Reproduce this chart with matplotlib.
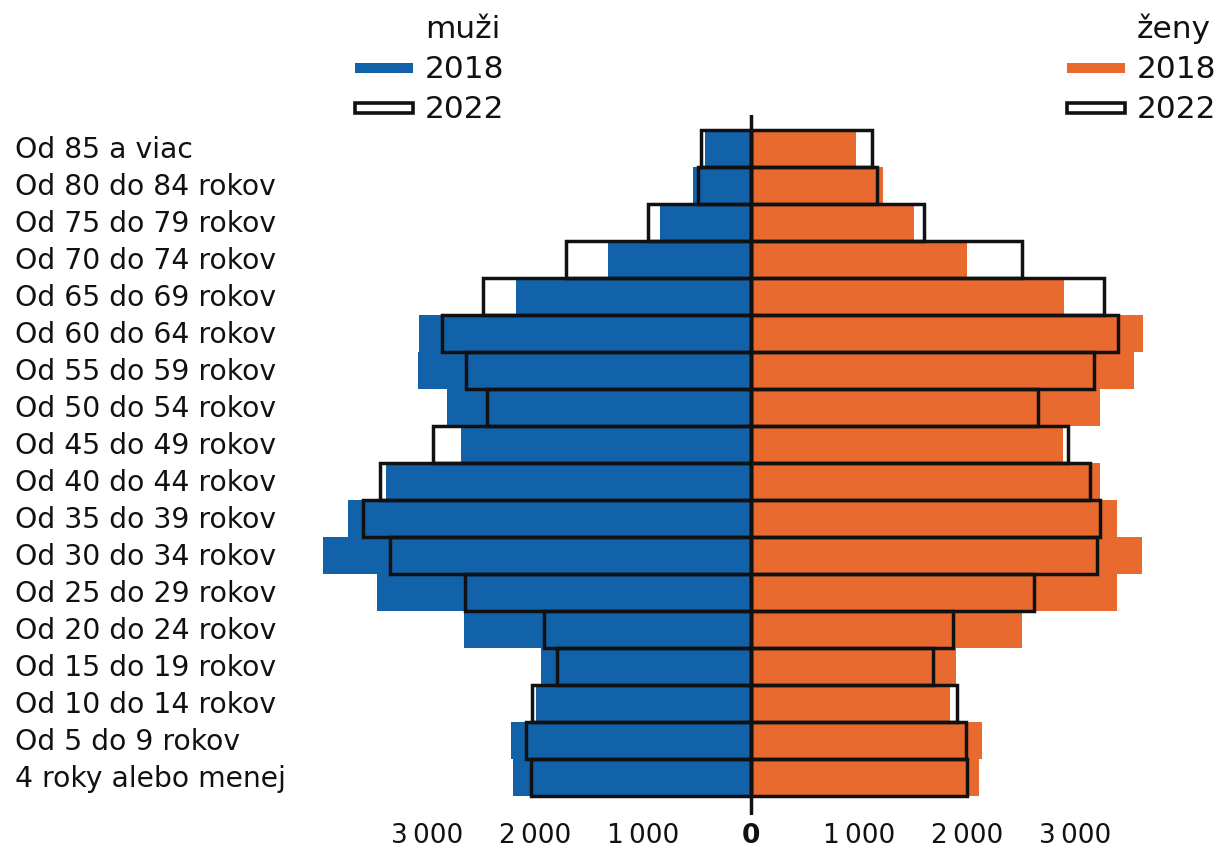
import numpy as np
import matplotlib.pyplot as plt
from matplotlib.patches import Rectangle
from matplotlib.transforms import blended_transform_factory

# ------------------------------------------------------------
# data (top row first)
# ------------------------------------------------------------
age_groups = [
    "Od 85 a viac", "Od 80 do 84 rokov", "Od 75 do 79 rokov",
    "Od 70 do 74 rokov", "Od 65 do 69 rokov", "Od 60 do 64 rokov",
    "Od 55 do 59 rokov", "Od 50 do 54 rokov", "Od 45 do 49 rokov",
    "Od 40 do 44 rokov", "Od 35 do 39 rokov", "Od 30 do 34 rokov",
    "Od 25 do 29 rokov", "Od 20 do 24 rokov", "Od 15 do 19 rokov",
    "Od 10 do 14 rokov", "Od 5 do 9 rokov", "4 roky alebo menej",
]

men_2018 = [425, 535, 845, 1325, 2175, 3075, 3085, 2815, 2685,
            3380, 3730, 3965, 3465, 2655, 1945, 1990, 2220, 2205]
men_2022 = [465, 490, 955, 1715, 2480, 2860, 2640, 2445, 2945,
            3435, 3595, 3345, 2650, 1915, 1795, 2030, 2085, 2035]
women_2018 = [970, 1220, 1510, 2000, 2900, 3630, 3545, 3230, 2890,
              3230, 3390, 3620, 3390, 2510, 1900, 1845, 2140, 2110]
women_2022 = [1120, 1165, 1600, 2510, 3270, 3400, 3175, 2655, 2935,
              3140, 3230, 3205, 2620, 1870, 1685, 1905, 1990, 2000]

tick_values = [-3000, -2000, -1000, 0, 1000, 2000, 3000]
tick_labels = ["3\u2009000", "2\u2009000", "1\u2009000", "0",
               "1\u2009000", "2\u2009000", "3\u2009000"]

BLUE = "#1262aa"
ORANGE = "#e86a2f"
INK = "#111111"

plt.rcParams["font.family"] = ["DejaVu Sans"]

W, H = 1221, 849
fig = plt.figure(figsize=(W / 100, H / 100), dpi=100)


def fx(px):
    return px / W


def fy(py):
    return 1 - py / H


# axes placed so that 0 sits at x=751 px, 1000 people ~ 108 px
ax = fig.add_axes([fx(300), fy(815), fx(900), (815 - 115) / H])
ax.set_xlim(-(751 - 300) / 0.108, (1200 - 751) / 0.108)
ax.set_ylim(-0.5 - 19 / 37, 17.5 + 15.5 / 37)

y = np.arange(len(age_groups))[::-1]

ax.barh(y, -np.array(men_2018), height=1.0, color=BLUE, lw=0)
ax.barh(y, women_2018, height=1.0, color=ORANGE, lw=0)
ax.barh(y, -np.array(men_2022), height=1.0, fill=False,
        edgecolor=INK, lw=2.5, zorder=3)
ax.barh(y, women_2022, height=1.0, fill=False,
        edgecolor=INK, lw=2.5, zorder=3)
ax.axvline(0, color=INK, lw=2.5, zorder=4)

for s in ax.spines.values():
    s.set_visible(False)
ax.set_yticks([])
ax.set_xticks(tick_values)
ax.set_xticklabels(tick_labels, fontsize=19, color=INK)
ax.tick_params(axis="x", length=0, pad=6)
ax.get_xticklabels()[3].set_fontweight("bold")

# row labels on the left
tr = blended_transform_factory(fig.transFigure, ax.transData)
for yi, lab in zip(y, age_groups):
    ax.text(fx(15), yi - 0.04, lab, transform=tr, ha="left", va="center",
            fontsize=20.3, color=INK)

# ── legends (hand drawn) ──
for x0, title, col in [(355, "muži", BLUE), (1067, "ženy", ORANGE)]:
    fig.add_artist(Rectangle((fx(x0), fy(73)), fx(58), 10 / H,
                             transform=fig.transFigure, color=col, lw=0))
    fig.add_artist(Rectangle((fx(x0), fy(113)), fx(58), 10 / H,
                             transform=fig.transFigure, facecolor="white",
                             edgecolor=INK, lw=2.6))
    tx = fx(x0 + 70)
    fig.text(tx, fy(29), title, fontsize=22.5, color=INK, va="center")
    fig.text(tx, fy(69), "2018", fontsize=22.5, color=INK, va="center")
    fig.text(tx, fy(109), "2022", fontsize=22.5, color=INK, va="center")

fig.savefig("out.png", dpi=100)
